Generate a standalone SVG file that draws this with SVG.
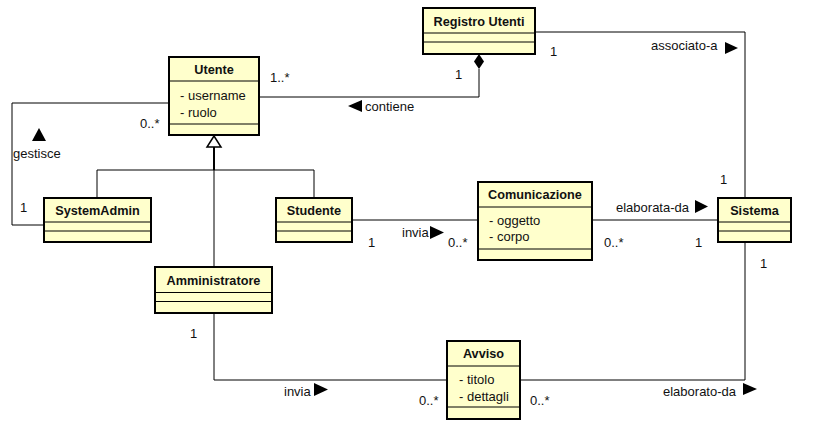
<svg xmlns="http://www.w3.org/2000/svg" width="821" height="435" viewBox="0 0 821 435">
<style>
.box{fill:#ffffcc;stroke:#000;stroke-width:2}
.div{stroke:#000;stroke-width:1;fill:none}
.ln{stroke:#000;stroke-width:1;fill:none}
.t{font-family:"Liberation Sans",Arial,sans-serif;font-size:13px;fill:#111}
.b{font-family:"Liberation Sans",Arial,sans-serif;font-size:12.7px;font-weight:bold;fill:#111;text-anchor:middle}
.tri{fill:#000}
</style>
<rect width="821" height="435" fill="#fff"/>
<g id="connectors">
<polyline class="ln" points="259,97 479,97 479,69"/>
<polygon points="479,54 484,61.5 479,69 474,61.5" fill="#000"/>
<polyline class="ln" points="535,32 745,32 745,198"/>
<polyline class="ln" points="169,103 12,103 12,225 44,225"/>
<polygon points="214,136 207,147 221,147" fill="#fff" stroke="#000" stroke-width="1.5"/>
<line x1="214" y1="147" x2="214" y2="170" stroke="#000" stroke-width="2"/>
<polyline class="ln" points="97,198 97,170 314,170 314,198"/>
<line class="ln" x1="214" y1="170" x2="214" y2="267"/>
<line class="ln" x1="352" y1="220" x2="478" y2="220"/>
<line class="ln" x1="592" y1="220" x2="718" y2="220"/>
<polyline class="ln" points="214,313 214,380 447,380"/>
<polyline class="ln" points="520,380 745,380 745,242"/>
<polygon class="tri" points="39,128 32,141 46,141"/>
<polygon class="tri" points="348,106 362,100 362,112"/>
<polygon class="tri" points="725,42 738,48 725,54"/>
<polygon class="tri" points="695,200 708,206.5 695,213"/>
<polygon class="tri" points="430,226 444,232.5 430,239"/>
<polygon class="tri" points="314,383 328,389.5 314,396"/>
<polygon class="tri" points="743,383 757,389 743,395"/>
<text class="t" x="270" y="82">1..*</text>
<text class="t" x="455" y="79">1</text>
<text class="t" x="365" y="111">contiene</text>
<text class="t" x="140" y="128">0..*</text>
<text class="t" x="13" y="158">gestisce</text>
<text class="t" x="20" y="212">1</text>
<text class="t" x="550" y="56">1</text>
<text class="t" x="651" y="50">associato-a</text>
<text class="t" x="720" y="184">1</text>
<text class="t" x="616" y="212">elaborata-da</text>
<text class="t" x="604" y="247">0..*</text>
<text class="t" x="695" y="247">1</text>
<text class="t" x="402" y="237">invia</text>
<text class="t" x="368" y="247">1</text>
<text class="t" x="448" y="247">0..*</text>
<text class="t" x="190" y="338">1</text>
<text class="t" x="284" y="396">invia</text>
<text class="t" x="419" y="405">0..*</text>
<text class="t" x="530" y="405">0..*</text>
<text class="t" x="663" y="396">elaborato-da</text>
<text class="t" x="760" y="268">1</text>
</g>
<g id="Utente">
<rect class="box" x="169" y="57" width="90" height="78"/>
<line class="div" x1="169" y1="81" x2="259" y2="81"/>
<line class="div" x1="169" y1="124" x2="259" y2="124"/>
<text class="b" x="214" y="74">Utente</text>
<text class="t" x="180" y="100">- username</text>
<text class="t" x="180" y="117">- ruolo</text>
</g>
<g id="RegistroUtenti">
<rect class="box" x="423" y="8" width="112" height="46"/>
<line class="div" x1="423" y1="33" x2="535" y2="33"/>
<line class="div" x1="423" y1="42" x2="535" y2="42"/>
<text class="b" x="479" y="26">Registro Utenti</text>
</g>
<g id="Sistema">
<rect class="box" x="718" y="198" width="73" height="44"/>
<line class="div" x1="718" y1="222" x2="791" y2="222"/>
<line class="div" x1="718" y1="231" x2="791" y2="231"/>
<text class="b" x="754.5" y="215">Sistema</text>
</g>
<g id="Comunicazione">
<rect class="box" x="478" y="182" width="114" height="78"/>
<line class="div" x1="478" y1="207" x2="592" y2="207"/>
<line class="div" x1="478" y1="249" x2="592" y2="249"/>
<text class="b" x="535" y="199">Comunicazione</text>
<text class="t" x="489" y="225">- oggetto</text>
<text class="t" x="489" y="241">- corpo</text>
</g>
<g id="Studente">
<rect class="box" x="276" y="198" width="76" height="44"/>
<line class="div" x1="276" y1="222" x2="352" y2="222"/>
<line class="div" x1="276" y1="231" x2="352" y2="231"/>
<text class="b" x="314" y="215">Studente</text>
</g>
<g id="SystemAdmin">
<rect class="box" x="44" y="198" width="107" height="44"/>
<line class="div" x1="44" y1="222" x2="151" y2="222"/>
<line class="div" x1="44" y1="231" x2="151" y2="231"/>
<text class="b" x="97.5" y="215">SystemAdmin</text>
</g>
<g id="Amministratore">
<rect class="box" x="155" y="267" width="117" height="46"/>
<line class="div" x1="155" y1="292.5" x2="272" y2="292.5"/>
<line class="div" x1="155" y1="301.5" x2="272" y2="301.5"/>
<text class="b" x="213.5" y="285">Amministratore</text>
</g>
<g id="Avviso">
<rect class="box" x="447" y="341" width="73" height="78"/>
<line class="div" x1="447" y1="366" x2="520" y2="366"/>
<line class="div" x1="447" y1="407" x2="520" y2="407"/>
<text class="b" x="483.5" y="358">Avviso</text>
<text class="t" x="459" y="384">- titolo</text>
<text class="t" x="459" y="401">- dettagli</text>
</g>
</svg>
